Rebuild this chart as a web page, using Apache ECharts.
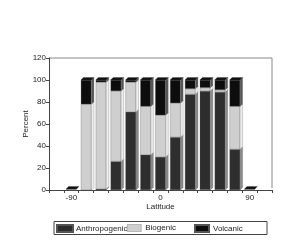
<!DOCTYPE html>
<html><head><meta charset="utf-8">
<script src="https://cdn.jsdelivr.net/npm/echarts@6/dist/echarts.min.js"></script>
<style>html,body{margin:0;padding:0;background:#fff}#c{width:294px;height:248px}</style>
</head><body><div id="c"></div>
<script>
var latitudes = [-105, -90, -75, -60, -45, -30, -15, 0, 15, 30, 45, 60, 75, 90, 105];
var latLabels = ['-90', '0', '90'];
var anthropogenic = [null, 0, 0, 1, 26, 71, 32, 30, 48, 87, 90, 89, 37, 0, null];
var biogenic      = [null, 0, 78, 97, 64, 27, 44, 38, 31, 5, 3, 2, 39, 0, null];
var volcanic      = [null, 0, 22, 2, 10, 2, 24, 32, 21, 8, 7, 9, 24, 0, null];
var yTicks = [0, 20, 40, 60, 80, 100, 120];

var chart = echarts.init(document.getElementById('c'));
var font = 'Liberation Sans, Arial, sans-serif';
var cats = latitudes.map(String);
var colors = ['#2e2e2e', '#cfcfcf', '#0d0d0d'];
var sideColors = ['#8a8a8a', '#eeeeee', '#555555'];
var topColor = '#111';
var DX = 2.5, DY = 2.5, BW = 10.5;

function bar(name, data, color, extra) {
  var s = {
    name: name, type: 'bar', stack: 'all', data: data, barWidth: BW,
    itemStyle: { color: color, borderColor: '#555', borderWidth: 0.3 },
    animation: false, z: 3
  };
  for (var k in extra) s[k] = extra[k];
  return s;
}
var depthData = latitudes.map(function (lat, i) {
  return [i, anthropogenic[i], biogenic[i], volcanic[i]];
}).filter(function (r) { return r[1] !== null; });

function renderDepth(params, api) {
  var i = api.value(0);
  var vals = [api.value(1), api.value(2), api.value(3)];
  var children = [];
  var base = 0;
  var c0 = api.coord([i, 0]);
  var xr = c0[0] + BW / 2;
  var xl = c0[0] - BW / 2;
  for (var s = 0; s < 3; s++) {
    var top = base + vals[s];
    if (vals[s] > 0) {
      var yb = api.coord([i, base])[1];
      var yt = api.coord([i, top])[1];
      children.push({
        type: 'polygon',
        shape: { points: [[xr, yb], [xr + DX, yb - DY], [xr + DX, yt - DY], [xr, yt]] },
        style: { fill: sideColors[s], stroke: '#666', lineWidth: 0.3 }
      });
    }
    base = top;
  }
  var yTop = api.coord([i, base])[1];
  if (base === 0) yTop -= 1;
  children.push({
    type: 'polygon',
    shape: { points: [[xl, yTop], [xl + DX, yTop - DY], [xr + DX, yTop - DY], [xr, yTop]] },
    style: { fill: topColor, stroke: '#333', lineWidth: 0.3 }
  });
  return { type: 'group', children: children };
}

chart.setOption({
  animation: false,
  backgroundColor: '#fff',
  grid: { left: 49, right: 22, top: 58, bottom: 58, containLabel: false },
  legend: [
    { data: ['Anthropogenic'], left: 56, top: 224, itemWidth: 16, itemHeight: 7, itemGap: 3,
      textStyle: { fontFamily: font, fontSize: 8, color: '#222', padding: [0, 0, 0, -2] }, icon: 'rect', padding: 0 },
    { data: ['Biogenic'], left: 127, top: 224, itemWidth: 14, itemHeight: 7,
      textStyle: { fontFamily: font, fontSize: 8, color: '#222', padding: [0, 0, 0, -1] }, icon: 'rect', padding: 0,
      itemStyle: { borderColor: '#888', borderWidth: 0.5 } },
    { data: ['Volcanic'], left: 194, top: 224, itemWidth: 14, itemHeight: 7,
      textStyle: { fontFamily: font, fontSize: 8, color: '#222', padding: [0, 0, 0, -1] }, icon: 'rect', padding: 0 }
  ],
  graphic: [
    { type: 'rect', shape: { x: 54, y: 221.5, width: 213, height: 13 }, style: { fill: 'none', stroke: '#444', lineWidth: 1 } },
    { type: 'line', shape: { x1: 49, y1: 58, x2: 272, y2: 58 }, style: { stroke: '#888', lineWidth: 1 } },
    { type: 'line', shape: { x1: 272, y1: 58, x2: 272, y2: 188 }, style: { stroke: '#888', lineWidth: 1 } }
  ],
  xAxis: {
    type: 'category', data: cats, name: 'Latitude', nameLocation: 'middle', nameGap: 13,
    nameMoveOverlap: false,
    nameTextStyle: { fontFamily: font, fontSize: 8, color: '#222' },
    axisLine: { lineStyle: { color: '#444' } },
    axisTick: { show: true, interval: 0, length: 3, lineStyle: { color: '#444' } },
    axisLabel: {
      interval: 0, margin: 4, fontFamily: font, fontSize: 8, color: '#222',
      formatter: function (v) { return latLabels.indexOf(v) >= 0 ? v : ''; }
    }
  },
  yAxis: {
    type: 'value', min: yTicks[0], max: yTicks[yTicks.length - 1], interval: 20,
    name: 'Percent', nameLocation: 'middle', nameGap: 19, nameRotate: 90,
    nameMoveOverlap: false,
    nameTextStyle: { fontFamily: font, fontSize: 8, color: '#222' },
    axisLine: { show: true, lineStyle: { color: '#444' } },
    axisTick: { show: true, length: 3, lineStyle: { color: '#444' } },
    splitLine: { show: false },
    axisLabel: { margin: 3, fontFamily: font, fontSize: 8, color: '#222' }
  },
  series: [
    bar('Anthropogenic', anthropogenic, colors[0]),
    bar('Biogenic', biogenic, colors[1]),
    bar('Volcanic', volcanic, colors[2]),
    { type: 'custom', name: 'depth', data: depthData, renderItem: renderDepth, z: 4,
      silent: true, animation: false, encode: { x: 0, y: 1 } }
  ]
});
</script></body></html>
